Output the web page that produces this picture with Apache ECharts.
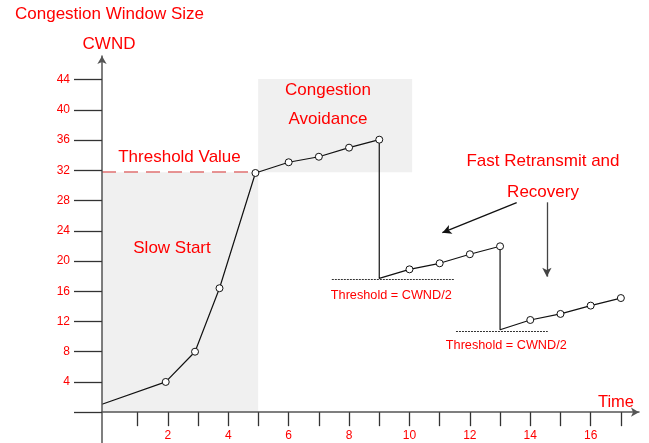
<!DOCTYPE html>
<html>
<head>
<meta charset="utf-8">
<script src="https://cdn.jsdelivr.net/npm/echarts@6/dist/echarts.min.js"></script>
<style>
  html, body { margin: 0; padding: 0; background: #fff; }
  #chart { width: 649px; height: 443px; }
</style>
</head>
<body>
<div id="chart"></div>
<script>
// time (x) and congestion window (y) of the sawtooth
const timeX = [-0.18, 1.93, 2.9, 3.71, 4.9, 6.0, 7.0, 8.0, 9.0, 9.0, 10.0, 11.0, 12.0, 13.0, 13.0, 14.0, 15.0, 16.0, 17.0];
const cwnd = [1.05, 4.0, 8.0, 16.4, 31.65, 33.07, 33.8, 35.0, 36.06, 17.7, 18.9, 19.7, 20.9, 21.95, 10.9, 12.2, 13.0, 14.1, 15.1];
const hasMarker = [0, 1, 1, 1, 1, 1, 1, 1, 1, 0, 1, 1, 1, 1, 0, 1, 1, 1, 1];

const xTicks = [1, 2, 3, 4, 5, 6, 7, 8, 9, 10, 11, 12, 13, 14, 15, 16, 17];
const xLabels = [2, 4, 6, 8, 10, 12, 14, 16];
const yTicks = [0, 4, 8, 12, 16, 20, 24, 28, 32, 36, 40, 44];
const yLabels = [4, 8, 12, 16, 20, 24, 28, 32, 36, 40, 44];

// shaded phases: [x0, y0, x1, y1]
const slowStartArea = [-0.18, 0, 4.99, 31.75];
const avoidanceArea = [4.99, 31.75, 10.09, 44.09];
// threshold lines: [x0, x1, y]
const thresholdValue = [-0.18, 4.9, 31.75];
const threshold1 = [7.43, 11.48, 17.6];
const threshold2 = [11.54, 14.58, 10.7];
// pointer arrows: [x0, y0, x1, y1]
const arrow1 = [13.55, 27.72, 11.09, 23.75];
const arrow2 = [14.55, 27.77, 14.55, 17.93];

const RED = '#ff0000';
const FONT = '"Liberation Sans", Arial, sans-serif';

function label(text, x, y, size) {
  return {
    type: 'text', x: x, y: y, z: 10,
    style: {
      text: text, fill: RED, font: size + 'px ' + FONT,
      align: 'center', verticalAlign: 'middle',
      textAlign: 'center', textVerticalAlign: 'middle'
    }
  };
}

function hLine(t, color, type) {
  return [
    { coord: [t[0], t[2]], symbol: 'none', lineStyle: { color: color, width: 1, type: type } },
    { coord: [t[1], t[2]], symbol: 'none' }
  ];
}

function arrowLine(a, color) {
  return [
    { coord: [a[0], a[1]], symbol: 'none', lineStyle: { color: color, width: 1.3, type: 'solid' } },
    { coord: [a[2], a[3]], symbol: 'arrow' }
  ];
}

const myChart = echarts.init(document.getElementById('chart'));
const option = {
  animation: false,
  grid: { left: 102, right: 10, top: 56, bottom: 0, outerBoundsMode: 'none' },
  xAxis: {
    type: 'value',
    min: -0.18,
    max: 17.6,
    z: 5,
    splitLine: { show: false },
    axisLine: {
      onZero: true,
      symbol: ['none', 'arrow'],
      symbolSize: [7, 8],
      lineStyle: { color: '#555', width: 1.5 }
    },
    axisTick: { customValues: xTicks, length: 14, lineStyle: { color: '#333', width: 1.3 } },
    // labels are laid out from the grid's bottom edge, which sits below the axis line
    axisLabel: { customValues: xLabels, margin: -13, color: RED, fontSize: 12, fontFamily: FONT }
  },
  yAxis: {
    type: 'value',
    min: -4.08,
    max: 47.13,
    z: 5,
    splitLine: { show: false },
    axisLine: {
      onZero: false,
      symbol: ['none', 'arrow'],
      symbolSize: [7, 8],
      lineStyle: { color: '#555', width: 1.5 }
    },
    axisTick: { customValues: yTicks, length: 28, lineStyle: { color: '#333', width: 1.3 } },
    axisLabel: { customValues: yLabels, margin: 32, color: RED, fontSize: 12, fontFamily: FONT }
  },
  series: [
    {
      type: 'line',
      data: timeX.map((x, i) => ({
        value: [x, cwnd[i]],
        symbol: hasMarker[i] ? 'circle' : 'none'
      })),
      symbolSize: 7,
      itemStyle: { color: '#fff', borderColor: '#111', borderWidth: 1 },
      lineStyle: { color: '#111', width: 1.2 },
      markArea: {
        silent: true,
        itemStyle: { color: '#f0f0f0' },
        data: [
          [{ coord: [slowStartArea[0], slowStartArea[1]] }, { coord: [slowStartArea[2], slowStartArea[3]] }],
          [{ coord: [avoidanceArea[0], avoidanceArea[1]] }, { coord: [avoidanceArea[2], avoidanceArea[3]] }]
        ]
      },
      markLine: {
        silent: true,
        symbol: ['none', 'none'],
        symbolSize: [7, 9],
        label: { show: false },
        data: [
          [
            { coord: [thresholdValue[0], thresholdValue[2]], symbol: 'none', lineStyle: { color: '#e07070', width: 1.5, type: [14, 8] } },
            { coord: [thresholdValue[1], thresholdValue[2]], symbol: 'none' }
          ],
          hLine(threshold1, '#333', [2, 1]),
          hLine(threshold2, '#333', [2, 1]),
          arrowLine(arrow1, '#111'),
          arrowLine(arrow2, '#444')
        ]
      }
    }
  ],
  graphic: [
    label('Congestion Window Size', 109.5, 14, 17),
    label('CWND', 109, 44, 17),
    label('Time', 616, 402, 16.5),
    label('Threshold Value', 179.5, 157, 17),
    label('Slow Start', 172, 248, 17),
    label('Congestion', 328, 90, 17),
    label('Avoidance', 328, 119.5, 17),
    label('Fast Retransmit and', 543, 161, 17),
    label('Recovery', 543, 192.5, 17),
    label('Threshold = CWND/2', 391.3, 295.3, 12.7),
    label('Threshold = CWND/2', 506.3, 345, 12.7)
  ]
};
myChart.setOption(option);
window.addEventListener('resize', function () {
  myChart.resize();
});
</script>
</body>
</html>
